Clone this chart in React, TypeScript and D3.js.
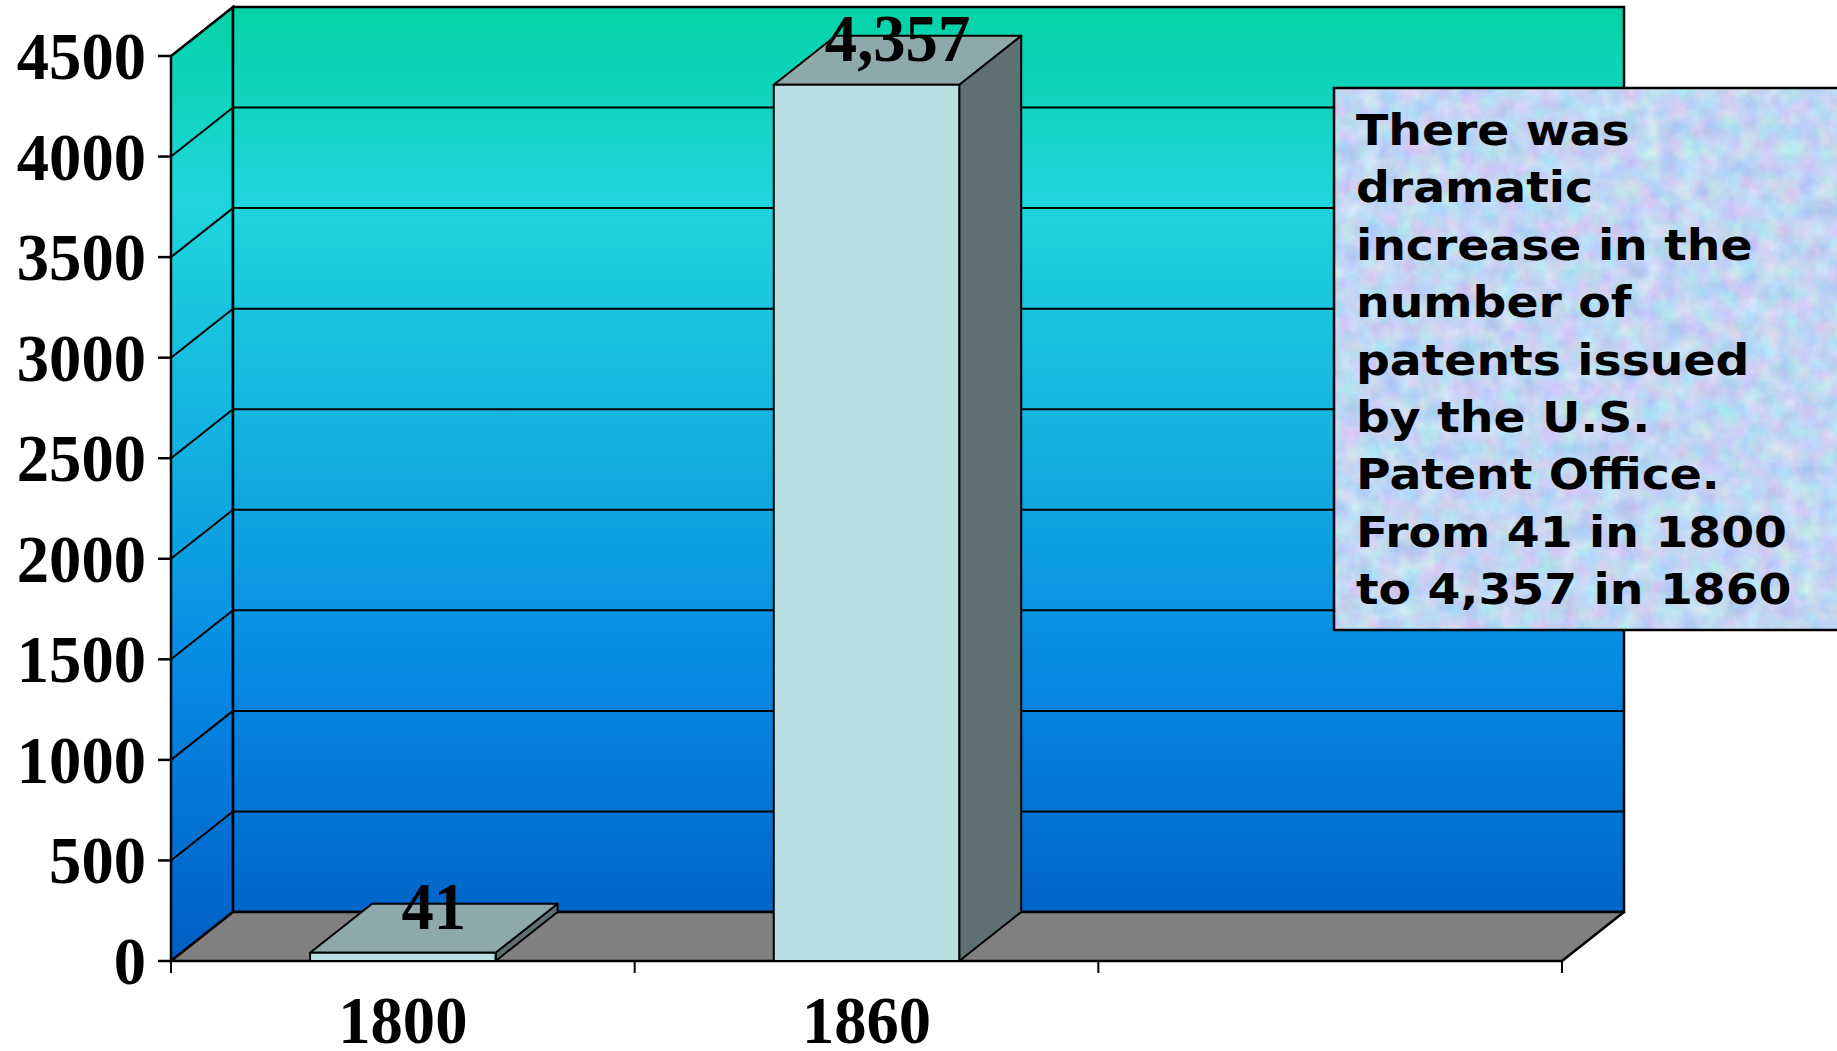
import React, { useRef, useEffect } from 'react';
import * as d3 from 'd3';

// data
const years = ['1800', '1860', ''];
const patents = [41, 4357, null];
const valueLabels = ['41', '4,357', ''];
const yTicks = [0, 500, 1000, 1500, 2000, 2500, 3000, 3500, 4000, 4500];
const noteLines = [
  'There was',
  'dramatic',
  'increase in the',
  'number of',
  'patents issued',
  'by the U.S.',
  'Patent Office.',
  'From 41 in 1800',
  'to 4,357 in 1860',
];

const serif = '"Liberation Serif", "Times New Roman", serif';

function PatentChart() {
  const svgRef = useRef(null);

  useEffect(() => {
    const width = 1837;
    const height = 1051;
    const left = 171, right = 1562, bottom = 961, top = 56;
    const dx = 62, dy = -49; // depth offset of the 3D box

    const svg = d3.select(svgRef.current)
      .attr('width', width)
      .attr('height', height)
      .attr('viewBox', `0 0 ${width} ${height}`);
    svg.selectAll('*').remove();

    const x = d3.scaleBand().domain(years).range([left, right]);
    const y = d3.scaleLinear().domain([0, 4500]).range([bottom, top]);

    const defs = svg.append('defs');
    const grad = defs.append('linearGradient')
      .attr('id', 'wallGrad')
      .attr('gradientUnits', 'userSpaceOnUse')
      .attr('x1', 0).attr('y1', y(4500) + dy)
      .attr('x2', 0).attr('y2', y(0));
    [
      [0, '#04d3a5'],
      [0.2, '#1ed6dc'],
      [0.45, '#14b2e0'],
      [0.7, '#0689e3'],
      [1, '#005ec4'],
    ].forEach(([o, c]) => grad.append('stop').attr('offset', o).attr('stop-color', c));

    // mottled paper texture for the note
    const filt = defs.append('filter').attr('id', 'paper')
      .attr('x', 0).attr('y', 0).attr('width', 1).attr('height', 1)
      .attr('color-interpolation-filters', 'sRGB');
    filt.append('feTurbulence')
      .attr('type', 'fractalNoise')
      .attr('baseFrequency', 0.05)
      .attr('numOctaves', 4)
      .attr('seed', 7);
    filt.append('feColorMatrix')
      .attr('type', 'matrix')
      .attr('values', '0.32 0 0 0 0.6  0 0.24 0 0 0.72  0 0 0.12 0 0.89  0 0 0 0 1');

    const line = (pts) => 'M' + pts.map(p => p.join(',')).join('L') + 'Z';

    // side wall
    svg.append('path')
      .attr('d', line([[left, y(0)], [left, y(4500)], [left + dx, y(4500) + dy], [left + dx, y(0) + dy]]))
      .attr('fill', 'url(#wallGrad)')
      .attr('stroke', 'black').attr('stroke-width', 2.5);

    // back wall
    svg.append('rect')
      .attr('x', left + dx).attr('y', y(4500) + dy)
      .attr('width', right - left).attr('height', y(0) - y(4500))
      .attr('fill', 'url(#wallGrad)')
      .attr('stroke', 'black').attr('stroke-width', 2.5);

    // gridlines
    yTicks.forEach(t => {
      svg.append('line')
        .attr('x1', left + dx).attr('x2', right + dx)
        .attr('y1', y(t) + dy).attr('y2', y(t) + dy)
        .attr('stroke', 'black').attr('stroke-width', 2);
      svg.append('line')
        .attr('x1', left).attr('x2', left + dx)
        .attr('y1', y(t)).attr('y2', y(t) + dy)
        .attr('stroke', 'black').attr('stroke-width', 2);
    });

    // floor
    svg.append('path')
      .attr('d', line([[left, y(0)], [right, y(0)], [right + dx, y(0) + dy], [left + dx, y(0) + dy]]))
      .attr('fill', '#808080')
      .attr('stroke', 'black').attr('stroke-width', 2.5)
      .attr('stroke-linejoin', 'round');

    // bars
    const bw = x.bandwidth() * 0.4;
    years.forEach((yr, i) => {
      const v = patents[i];
      if (v == null) return;
      const x0 = x(yr) + (x.bandwidth() - bw) / 2;
      const x1 = x0 + bw;
      const y0 = y(0);
      const y1 = y(v);
      const g = svg.append('g').attr('stroke', 'black').attr('stroke-width', 2).attr('stroke-linejoin', 'round');
      g.append('path')
        .attr('d', line([[x1, y0], [x1, y1], [x1 + dx, y1 + dy], [x1 + dx, y0 + dy]]))
        .attr('fill', '#5e7072');
      g.append('path')
        .attr('d', line([[x0, y1], [x1, y1], [x1 + dx, y1 + dy], [x0 + dx, y1 + dy]]))
        .attr('fill', '#8ea9aa');
      g.append('rect')
        .attr('x', x0).attr('y', y1)
        .attr('width', bw).attr('height', y0 - y1)
        .attr('fill', '#badfe3');

      const lx = (x0 + x1) / 2 + dx / 2;
      svg.append('text')
        .attr('transform', `translate(${lx},${y1 + dy / 2 + 1}) scale(0.95,1)`)
        .attr('text-anchor', 'middle')
        .style('font-family', serif)
        .style('font-weight', 'bold')
        .style('font-size', '68px')
        .text(valueLabels[i]);
    });

    // y axis ticks and labels
    yTicks.forEach(t => {
      svg.append('line')
        .attr('x1', left - 13).attr('x2', left)
        .attr('y1', y(t)).attr('y2', y(t))
        .attr('stroke', 'black').attr('stroke-width', 2.5);
      svg.append('text')
        .attr('transform', `translate(146,${y(t) + 23}) scale(0.95,1)`)
        .attr('text-anchor', 'end')
        .style('font-family', serif)
        .style('font-weight', 'bold')
        .style('font-size', '68px')
        .text(t);
    });

    // x axis ticks and labels
    const bounds = [...years.map(yr => x(yr)), right];
    bounds.forEach(bx => {
      svg.append('line')
        .attr('x1', bx).attr('x2', bx)
        .attr('y1', y(0)).attr('y2', y(0) + 12)
        .attr('stroke', 'black').attr('stroke-width', 2);
    });
    years.forEach(yr => {
      svg.append('text')
        .attr('transform', `translate(${x(yr) + x.bandwidth() / 2},1043) scale(0.95,1)`)
        .attr('text-anchor', 'middle')
        .style('font-family', serif)
        .style('font-weight', 'bold')
        .style('font-size', '68px')
        .text(yr);
    });

    // note box
    const note = svg.append('g');
    note.append('rect')
      .attr('x', 1334).attr('y', 88)
      .attr('width', 520).attr('height', 542)
      .attr('fill', '#c4d8f2')
      .attr('filter', 'url(#paper)');
    note.append('rect')
      .attr('x', 1334).attr('y', 88)
      .attr('width', 520).attr('height', 542)
      .attr('fill', 'none')
      .attr('stroke', 'black').attr('stroke-width', 2.5);
    note.append('text')
      .attr('transform', 'translate(1356,0) scale(1.1,1)')
      .style('font-family', '"DejaVu Sans", Verdana, sans-serif')
      .style('font-weight', 'bold')
      .style('font-size', '43px')
      .selectAll('tspan')
      .data(noteLines)
      .join('tspan')
      .attr('x', 0)
      .attr('y', (d, i) => 145 + i * 57.4)
      .text(d => d);
  }, []);

  return <svg ref={svgRef}></svg>;
}

export default function App() {
  return (
    <div style={{ position: 'absolute', left: 0, top: 0 }}>
      <PatentChart />
    </div>
  );
}
